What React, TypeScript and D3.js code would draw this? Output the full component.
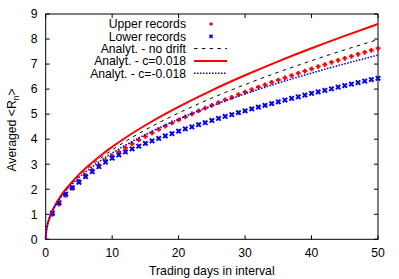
import React from "react";
import * as d3 from "d3";

const days = d3.range(1, 51);
const upperRecords = [1.0, 1.41, 1.76, 2.05, 2.31, 2.55, 2.76, 2.96, 3.15, 3.33,
  3.5, 3.66, 3.82, 3.97, 4.11, 4.25, 4.39, 4.52, 4.65, 4.77,
  4.89, 5.01, 5.13, 5.24, 5.35, 5.46, 5.57, 5.67, 5.78, 5.88,
  5.98, 6.08, 6.17, 6.27, 6.36, 6.45, 6.54, 6.63, 6.72, 6.81,
  6.9, 6.98, 7.07, 7.15, 7.23, 7.31, 7.39, 7.47, 7.55, 7.63];
const lowerRecords = [1.04, 1.46, 1.8, 2.06, 2.28, 2.5, 2.7, 2.9, 3.08, 3.24,
  3.37, 3.49, 3.61, 3.72, 3.83, 3.93, 4.03, 4.13, 4.22, 4.32,
  4.41, 4.49, 4.58, 4.66, 4.75, 4.83, 4.91, 4.98, 5.06, 5.13,
  5.21, 5.28, 5.35, 5.42, 5.49, 5.56, 5.63, 5.69, 5.76, 5.83,
  5.89, 5.95, 6.01, 6.08, 6.14, 6.2, 6.26, 6.32, 6.38, 6.43];

const curveX = [0, 0.05, 0.2, 0.5, 1, 1.5, 2, 3, 4, 5, 6, 8, 10, 12, 15, 18, 21, 25, 30, 35, 40, 45, 50];
const noDrift = [0, 0.252, 0.505, 0.798, 1.128, 1.382, 1.596, 1.954, 2.257, 2.523, 2.764, 3.192, 3.568, 3.909, 4.37, 4.787, 5.171, 5.642, 6.18, 6.676, 7.136, 7.569, 7.979];
const driftPos = [0, 0.253, 0.507, 0.804, 1.14, 1.401, 1.621, 1.991, 2.307, 2.585, 2.838, 3.291, 3.692, 4.058, 4.556, 5.01, 5.431, 5.952, 6.552, 7.11, 7.632, 8.127, 8.599];
const driftNeg = [0, 0.251, 0.503, 0.792, 1.116, 1.363, 1.571, 1.917, 2.207, 2.461, 2.69, 3.093, 3.444, 3.76, 4.184, 4.564, 4.911, 5.332, 5.808, 6.242, 6.64, 7.011, 7.359];

const xTicks = [0, 10, 20, 30, 40, 50];
const yTicks = [0, 1, 2, 3, 4, 5, 6, 7, 8, 9];
const legendLabels = ["Upper records", "Lower records", "Analyt. - no drift", "Analyt. - c=0.018", "Analyt. - c=-0.018"];

const W = 399, H = 279;
const L = 45.7, R = 378, T = 14, B = 239.3;
const FONT = "'Liberation Sans', Arial, sans-serif";
const FS = 12.2;

export default function App() {
  const x = d3.scaleLinear().domain([0, 50]).range([L, R]);
  const y = d3.scaleLinear().domain([0, 9]).range([B, T]);
  const line = d3.line<number>().x((_, i) => x(curveX[i])).y((d) => y(d)).curve(d3.curveMonotoneX);
  const tl = 4;
  const plus = (cx: number, cy: number, s = 2.4) => `M${cx - s},${cy}H${cx + s}M${cx},${cy - s}V${cy + s}`;
  const cross = (cx: number, cy: number, s = 2.2) => `M${cx - s},${cy - s}L${cx + s},${cy + s}M${cx - s},${cy + s}L${cx + s},${cy - s}`;
  const legX = 186, legY0 = 24, legDy = 12.3;
  const sx0 = 194, sx1 = 227, sm = 211;
  return (
    <svg width={W} height={H} style={{ position: "absolute", left: 0, top: 0, background: "#fff" }} fontFamily={FONT}>
      <rect x={0} y={0} width={W} height={H} fill="#fff" />
      {xTicks.map((t) => (
        <g key={"xt" + t}>
          <line x1={x(t)} x2={x(t)} y1={B} y2={B - tl} stroke="#000" />
          <line x1={x(t)} x2={x(t)} y1={T} y2={T + tl} stroke="#000" />
          <text x={x(t)} y={256.5} fontSize={FS} textAnchor="middle" fill="#000">{t}</text>
        </g>
      ))}
      {yTicks.map((t) => (
        <g key={"yt" + t}>
          <line x1={L} x2={L + tl} y1={y(t)} y2={y(t)} stroke="#000" />
          <line x1={R} x2={R - tl} y1={y(t)} y2={y(t)} stroke="#000" />
          <text x={37.5} y={y(t) + 4.3} fontSize={FS} textAnchor="end" fill="#000">{t}</text>
        </g>
      ))}
      <rect x={L} y={T} width={R - L} height={B - T} fill="none" stroke="#000" strokeWidth={1} />
      <g fill="none" stroke="#ff0000" strokeWidth={2}>
        {upperRecords.map((v, i) => <path key={"u" + i} d={plus(x(days[i]), y(v))} />)}
      </g>
      <g fill="none" stroke="#0000ff" strokeWidth={2}>
        {lowerRecords.map((v, i) => <path key={"l" + i} d={cross(x(days[i]), y(v))} />)}
      </g>
      <path d={line(noDrift) || ""} fill="none" stroke="#000" strokeWidth={1} strokeDasharray="3.5,4.3" />
      <path d={line(driftPos) || ""} fill="none" stroke="#ff0000" strokeWidth={2} />
      <path d={line(driftNeg) || ""} fill="none" stroke="#0000ff" strokeWidth={1.6} strokeDasharray="1.5,1.5" />
      {legendLabels.map((lab, i) => (
        <text key={"lg" + i} x={legX} y={legY0 + i * legDy + 4.3} fontSize={FS} textAnchor="end" fill="#000">{lab}</text>
      ))}
      <path d={plus(sm, legY0, 1.8)} stroke="#ff0000" strokeWidth={1.6} fill="none" />
      <path d={cross(sm, legY0 + legDy, 1.6)} stroke="#0000ff" strokeWidth={1.6} fill="none" />
      <line x1={sx0} x2={sx1} y1={legY0 + 2 * legDy} y2={legY0 + 2 * legDy} stroke="#000" strokeWidth={1} strokeDasharray="3.5,4.3" />
      <line x1={sx0} x2={sx1} y1={legY0 + 3 * legDy} y2={legY0 + 3 * legDy} stroke="#ff0000" strokeWidth={2} />
      <line x1={sx0} x2={sx1} y1={legY0 + 4 * legDy} y2={legY0 + 4 * legDy} stroke="#0000ff" strokeWidth={1.6} strokeDasharray="1.5,1.5" />
      <text x={(L + R) / 2} y={275} fontSize={FS} textAnchor="middle" fill="#000">Trading days in interval</text>
      <text transform={`translate(16,130) rotate(-90)`} fontSize={FS} textAnchor="middle" fill="#000">
        Averaged &lt;R<tspan fontSize={8.5} dy={3}>n</tspan><tspan dy={-3}>&gt;</tspan>
      </text>
    </svg>
  );
}
